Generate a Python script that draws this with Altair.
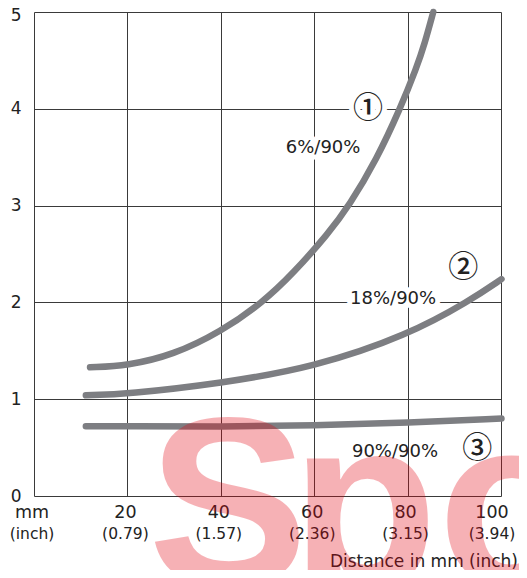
import altair as alt
import pandas as pd

# ---- data ----
x1 = [12.0, 20, 29.8, 40, 49.0, 55.5, 63.0, 67.5, 73.4, 78.4, 81.9, 83.7, 85.5]
y1 = [1.33, 1.346, 1.457, 1.697, 2.0, 2.30, 2.71, 3.0, 3.48, 4.0, 4.42, 4.68, 5.0]
x2 = [11.1, 20, 40, 60, 80, 93.4, 100.1]
y2 = [1.04, 1.054, 1.164, 1.33, 1.66, 2.02, 2.24]
x3 = [11.1, 20, 40, 60, 80, 100.1]
y3 = [0.72, 0.72, 0.716, 0.73, 0.757, 0.80]

tick_vals = [0, 20, 40, 60, 80, 100]
tick_mm = ["mm", "20", "40", "60", "80", "100"]
tick_inch = ["(inch)", "(0.79)", "(1.57)", "(2.36)", "(3.15)", "(3.94)"]
y_vals = [0, 1, 2, 3, 4, 5]

circ_text = ["①", "②", "③"]
circ_x = [71.5, 91.9, 94.9]
circ_y = [4.0, 2.36, 0.49]
circ_halo = [True, True, False]

lab_text = ["6%/90%", "18%/90%", "90%/90%"]
lab_x = [61.9, 76.9, 77.3]
lab_y = [3.6, 2.03, 0.45]
lab_halo = [True, True, False]

axis_title = "Distance in mm (inch)"
watermark = ["S", "p", "o"]

FONT = "DejaVu Sans"
W, H = 467, 484

rows = []
for name, xs_, ys_ in (("1", x1, y1), ("2", x2, y2), ("3", x3, y3)):
    for a, b in zip(xs_, ys_):
        rows.append({"s": name, "x": a, "y": b})
curves = pd.DataFrame(rows)

xs = alt.Scale(domain=[0, 100], nice=False, zero=False)
ys = alt.Scale(domain=[0, 5], nice=False, zero=False)

x_axis = alt.Axis(values=tick_vals, grid=True, labels=False, ticks=False, domain=False,
                  title=None, gridColor="#3a3a3a", gridWidth=1, gridOpacity=1)
y_axis = alt.Axis(values=y_vals, grid=True, ticks=False, domain=False, title=None,
                  format="d", gridColor="#3a3a3a", gridWidth=1, gridOpacity=1,
                  labelFont=FONT, labelFontSize=17, labelColor="#222",
                  labelPadding=13,
                  labelOffset={"condition": {"test": "datum.value == 5", "value": 3}, "value": 0})

lines = alt.Chart(curves).mark_line(
    color="#7d7e82", strokeWidth=6.5, strokeCap="round", interpolate="basis"
).encode(
    x=alt.X("x:Q", scale=xs, axis=x_axis),
    y=alt.Y("y:Q", scale=ys, axis=y_axis),
    detail="s:N",
)

circ = pd.DataFrame({"t": circ_text, "x": circ_x, "y": circ_y, "h": circ_halo})
labs = pd.DataFrame({"t": lab_text, "x": lab_x, "y": lab_y, "h": lab_halo})

def txt(df, font, size, halo, weight="normal"):
    base = alt.Chart(df)
    if halo:
        base = base.transform_filter("datum.h")
        m = base.mark_text(font=font, fontSize=size, fontWeight=weight, color="white",
                           stroke="white", strokeWidth=10, strokeJoin="round",
                           baseline="middle")
    else:
        m = base.mark_text(font=font, fontSize=size, fontWeight=weight, color="#222",
                           baseline="middle")
    return m.encode(x=alt.X("x:Q", scale=xs), y=alt.Y("y:Q", scale=ys), text="t:N")

CF = "Noto Sans CJK JP"
halo_c = txt(circ, CF, 30, True, 500)
halo_l = txt(labs, FONT, 18, True)
text_c = txt(circ, CF, 30, False, 500)
text_l = txt(labs, FONT, 18, False)

ticks = pd.DataFrame({"x": tick_vals, "a": tick_mm, "b": tick_inch})
first = ticks[ticks.x < 100]
last = ticks[ticks.x == 100]

def tick_layers(df, dx):
    t1 = alt.Chart(df).mark_text(font=FONT, fontSize=17.5, color="#222", baseline="middle", dx=dx).encode(
        x=alt.X("x:Q", scale=xs), y=alt.value(501), text="a:N")
    t2 = alt.Chart(df).mark_text(font=FONT, fontSize=15.5, color="#222", baseline="middle", dx=dx).encode(
        x=alt.X("x:Q", scale=xs), y=alt.value(522), text="b:N")
    return [t1, t2]

tick_marks = tick_layers(first, -2) + tick_layers(last, -9)

title = alt.Chart(pd.DataFrame({"t": [axis_title]})).mark_text(
    font=FONT, fontSize=17, color="#222", align="right", baseline="middle"
).encode(x=alt.value(484), y=alt.value(550), text="t:N")

wm_layers = []
for letter, px, al in zip(watermark, [194, 257, 404], ["center", "left", "left"]):
    wm_layers.append(
        alt.Chart(pd.DataFrame({"t": [letter]})).mark_text(
            font="Liberation Sans", fontWeight="bold", fontSize=240, color="#e3000f",
            opacity=0.3, align=al, baseline="alphabetic"
        ).encode(x=alt.value(px), y=alt.value(573), text="t:N")
    )

chart = alt.layer(lines, halo_c, halo_l, text_c, text_l, *tick_marks, title, *wm_layers).properties(
    width=W, height=H, autosize="none",
    padding={"left": 26, "top": 4, "right": 18, "bottom": 74},
    background="white",
).configure_view(stroke=None)

chart.save("out.html", embed_options={"renderer": "svg", "actions": False})
